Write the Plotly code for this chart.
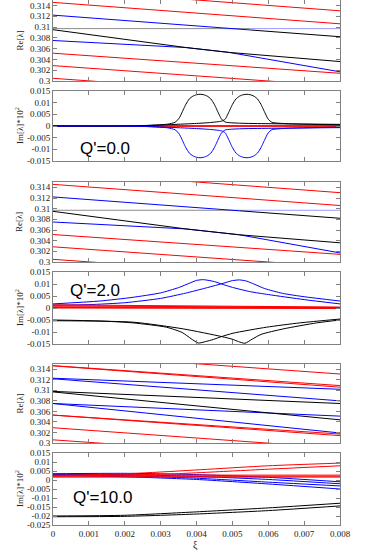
import plotly.graph_objects as go

# ---------------- data ----------------
xi_ticks = [0, 0.001, 0.002, 0.003, 0.004, 0.005, 0.006, 0.007, 0.008]
xi_ticklabels = ["0", "0.001", "0.002", "0.003", "0.004", "0.005", "0.006", "0.007", "0.008"]
re_ticks = [0.3, 0.302, 0.304, 0.306, 0.308, 0.31, 0.312, 0.314]
re_ticklabels = ["0.3", "0.302", "0.304", "0.306", "0.308", "0.31", "0.312", "0.314"]
im_ticks = [-0.015, -0.01, -0.005, 0, 0.005, 0.01, 0.015]
im_ticklabels = ["-0.015", "-0.01", "-0.005", "0", "0.005", "0.01", "0.015"]
im10_ticks = [-0.025, -0.02, -0.015, -0.01, -0.005, 0, 0.005, 0.01, 0.015]
im10_ticklabels = ["-0.025", "-0.02", "-0.015", "-0.01", "-0.005", "0", "0.005", "0.01", "0.015"]

xi_ends = [0, 0.008]

# Q'=0.0 real part
q0_re_red = [[0.3170, 0.3130], [0.31456, 0.31059], [0.30515, 0.30143], [0.30285, 0.29905], [0.3005, 0.2967]]
q0_re_h_black_xi = [0, 0.0055]
q0_re_h_black = [0.3097, 0.3097]
q0_re_h_blue_xi = [0.0055, 0.008]
q0_re_h_blue = [0.3097, 0.3097]
q0_re_d_blue_xi = [0, 0.0055]
q0_re_d_blue = [0.3122, 0.30945]
q0_re_d_black_xi = [0.0055, 0.008]
q0_re_d_black = [0.30945, 0.3082]
q0_re_lo_xi = [0, 0.0037, 0.0049, 0.008]
q0_re_lo_black = [0.3095, 0.3062, 0.3053, 0.3036]
q0_re_lo_blue = [0.3075, 0.3062, 0.3053, 0.3017]

# Q'=2.0 real part
q2_re_red = [[0.3170, 0.3130], [0.31456, 0.31059], [0.30515, 0.30143], [0.30285, 0.29905], [0.3005, 0.2967]]
q2_re_h_black_xi = [0, 0.0052]
q2_re_h_black = [0.3097, 0.3097]
q2_re_h_blue_xi = [0.0052, 0.008]
q2_re_h_blue = [0.3097, 0.3097]
q2_re_d_blue_xi = [0, 0.0052]
q2_re_d_blue = [0.3122, 0.3096]
q2_re_d_black_xi = [0.0052, 0.008]
q2_re_d_black = [0.3096, 0.3082]
q2_re_lo_xi = [0, 0.0037, 0.0052, 0.008]
q2_re_lo_black = [0.3095, 0.3062, 0.3051, 0.3036]
q2_re_lo_blue = [0.3075, 0.3062, 0.3051, 0.3017]

# Q'=10.0 real part
q10_re_red = [[0.3170, 0.3131], [0.31469, 0.3109], [0.31465, 0.3106], [0.3053, 0.3017],
              [0.3053, 0.3014], [0.3029, 0.2990], [0.3006, 0.2968]]
q10_re_blue = [[0.3123, 0.3102], [0.3122, 0.3080], [0.3075, 0.3051], [0.3075, 0.3019]]
q10_re_black = [[0.3098, 0.3075], [0.3097, 0.3044]]

# Q'=0.0 imaginary part (x 10^2)
q0_imA_xi = [0, 0.0019, 0.0027, 0.0032, 0.0034, 0.0035, 0.00355, 0.0036, 0.00365, 0.0037,
             0.00375, 0.0038, 0.0039, 0.0040, 0.0041, 0.0042, 0.0043, 0.0044, 0.00445, 0.0045,
             0.00455, 0.0046, 0.00465, 0.0047, 0.0048, 0.0052, 0.006, 0.008]
q0_imA_black = [0, 0, 0.0003, 0.0008, 0.0016, 0.0030, 0.0043, 0.0059, 0.0076, 0.0092,
                0.0105, 0.0116, 0.0128, 0.0134, 0.0136, 0.0134, 0.0128, 0.0116, 0.0105, 0.0092,
                0.0076, 0.0059, 0.0043, 0.0029, 0.0017, 0.0012, 0.0010, 0.0007]
q0_imA_blue = [0, 0, -0.0003, -0.0008, -0.0016, -0.0030, -0.0043, -0.0059, -0.0076, -0.0092,
               -0.0105, -0.0116, -0.0128, -0.0134, -0.0136, -0.0134, -0.0128, -0.0116, -0.0105, -0.0092,
               -0.0076, -0.0059, -0.0043, -0.0029, -0.0017, -0.0012, -0.0010, -0.0007]
q0_imB_xi = [0, 0.0022, 0.004, 0.0044, 0.0047, 0.0048, 0.00485, 0.0049, 0.00495, 0.0050,
             0.00505, 0.0051, 0.0052, 0.0053, 0.0054, 0.0055, 0.0056, 0.0057, 0.00575, 0.0058,
             0.00585, 0.0059, 0.00595, 0.0060, 0.0061, 0.0065, 0.008]
q0_imB_black = [0, 0, 0.0011, 0.0015, 0.0021, 0.0029, 0.0043, 0.0059, 0.0076, 0.0092,
                0.0105, 0.0116, 0.0128, 0.0134, 0.0136, 0.0134, 0.0128, 0.0116, 0.0105, 0.0092,
                0.0076, 0.0059, 0.0043, 0.0029, 0.0016, 0.0010, 0.0005]
q0_imB_blue = [0, 0, -0.0011, -0.0015, -0.0021, -0.0029, -0.0043, -0.0059, -0.0076, -0.0092,
               -0.0105, -0.0116, -0.0128, -0.0134, -0.0136, -0.0134, -0.0128, -0.0116, -0.0105, -0.0092,
               -0.0076, -0.0059, -0.0043, -0.0029, -0.0016, -0.0010, -0.0005]
q0_im_red = [[0, 0], [0.0001, 0.0001], [-0.0001, -0.0001]]

# Q'=2.0 imaginary part (x 10^2)
q2_imA_blue_xi = [0, 0.0013, 0.0022, 0.003, 0.0035, 0.0038, 0.0040, 0.0042, 0.0045, 0.0047,
                  0.005, 0.0055, 0.006, 0.007, 0.008]
q2_imA_blue = [0.0017, 0.0029, 0.0044, 0.0063, 0.0085, 0.0103, 0.0115, 0.0118, 0.0110, 0.0100,
               0.0086, 0.0068, 0.0056, 0.0035, 0.0017]
q2_imB_blue_xi = [0, 0.001, 0.002, 0.003, 0.0037, 0.0042, 0.0047, 0.0050, 0.0052, 0.0054,
                  0.0056, 0.0059, 0.0064, 0.007, 0.008]
q2_imB_blue = [0.0012, 0.0014, 0.0022, 0.0040, 0.0062, 0.0081, 0.0101, 0.0114, 0.0117, 0.0112,
               0.0100, 0.0081, 0.0061, 0.0047, 0.0029]
q2_imA_black_xi = [0, 0.0013, 0.00223, 0.00316, 0.0036, 0.00385, 0.00405, 0.00425, 0.00447, 0.0047,
                   0.00502, 0.00595, 0.00688, 0.008]
q2_imA_black = [-0.0050, -0.0054, -0.0062, -0.0080, -0.0102, -0.0128, -0.0146, -0.0140, -0.0131, -0.0119,
                -0.0105, -0.0080, -0.0062, -0.0046]
q2_imB_black_xi = [0, 0.00223, 0.00363, 0.0047, 0.00502, 0.00517, 0.00535, 0.00555, 0.0058,
                   0.00642, 0.00735, 0.008]
q2_imB_black = [-0.0053, -0.0059, -0.0087, -0.0119, -0.0131, -0.0140, -0.0147, -0.0130, -0.0110,
                -0.0087, -0.0062, -0.0050]
q2_im_red = [[0.0013, 0.0004], [0.0009, 0.0002], [0.0005, 0.0001], [0.0002, 0.0], [0.0, -0.0002]]

# Q'=10.0 imaginary part (x 10^2)
q10_im_xi5 = [0, 0.002, 0.004, 0.006, 0.008]
q10_im_black = [[-0.0200, -0.0196, -0.0177, -0.0155, -0.0129],
                [-0.0204, -0.0202, -0.0189, -0.0170, -0.0144]]
q10_im_blue = [[0.0035, 0.0037, 0.0030, 0.0015, -0.0010],
               [0.0031, 0.0030, 0.0020, 0.0003, -0.0021],
               [0.0028, 0.0024, 0.0010, -0.0012, -0.0033],
               [0.0025, 0.0018, 0.0003, -0.0022, -0.0050]]
q10_im_red_flat = [[0.0027, 0.0027], [0.0021, 0.0021], [0.0016, 0.0016]]
q10_im_redA_xi = [0, 0.0024, 0.0041, 0.006, 0.008]
q10_im_redA = [0.0023, 0.0038, 0.0057, 0.0079, 0.0094]
q10_im_redB_xi = [0, 0.0032, 0.005, 0.006, 0.008]
q10_im_redB = [0.0023, 0.0033, 0.0050, 0.0060, 0.0079]

# ---------------- figure ----------------
RED, BLUE, BLACK = "#ff0000", "#0000ff", "#000000"
GREY_H, LBLUE_H = "#8c8c8c", "#9a9aff"
fig = go.Figure()


def add(row, xs, ys, color, width=1, shape="linear"):
    fig.add_trace(go.Scatter(
        x=xs, y=ys, mode="lines",
        line=dict(color=color, width=width, shape=shape, smoothing=0.6 if shape == "spline" else None),
        xaxis="x" if row == 1 else f"x{row}",
        yaxis="y" if row == 1 else f"y{row}",
        showlegend=False, hoverinfo="skip"))


# row 1: Q'=0 Re
for r in q0_re_red:
    add(1, xi_ends, r, RED)
add(1, q0_re_h_black_xi, q0_re_h_black, GREY_H)
add(1, q0_re_h_blue_xi, q0_re_h_blue, LBLUE_H)
add(1, q0_re_d_blue_xi, q0_re_d_blue, BLUE)
add(1, q0_re_d_black_xi, q0_re_d_black, BLACK)
add(1, q0_re_lo_xi, q0_re_lo_blue, BLUE)
add(1, q0_re_lo_xi, q0_re_lo_black, BLACK)

# row 2: Q'=0 Im
for r in q0_im_red:
    add(2, xi_ends, r, RED)
add(2, q0_imA_xi, q0_imA_black, BLACK, shape="spline")
add(2, q0_imB_xi, q0_imB_black, BLACK, shape="spline")
add(2, q0_imA_xi, q0_imA_blue, BLUE, shape="spline")
add(2, q0_imB_xi, q0_imB_blue, BLUE, shape="spline")

# row 3: Q'=2 Re
for r in q2_re_red:
    add(3, xi_ends, r, RED)
add(3, q2_re_h_black_xi, q2_re_h_black, GREY_H)
add(3, q2_re_h_blue_xi, q2_re_h_blue, LBLUE_H)
add(3, q2_re_d_blue_xi, q2_re_d_blue, BLUE)
add(3, q2_re_d_black_xi, q2_re_d_black, BLACK)
add(3, q2_re_lo_xi, q2_re_lo_blue, BLUE)
add(3, q2_re_lo_xi, q2_re_lo_black, BLACK)

# row 4: Q'=2 Im
add(4, q2_imA_blue_xi, q2_imA_blue, BLUE, shape="spline")
add(4, q2_imB_blue_xi, q2_imB_blue, BLUE, shape="spline")
add(4, q2_imA_black_xi, q2_imA_black, BLACK, shape="spline")
add(4, q2_imB_black_xi, q2_imB_black, BLACK, shape="spline")
for r in q2_im_red:
    add(4, xi_ends, r, RED)

# row 5: Q'=10 Re
for r in q10_re_red:
    add(5, xi_ends, r, RED)
for r in q10_re_blue:
    add(5, xi_ends, r, BLUE)
for r in q10_re_black:
    add(5, xi_ends, r, BLACK)

# row 6: Q'=10 Im
for r in q10_im_black:
    add(6, q10_im_xi5, r, BLACK, shape="spline")
for r in q10_im_blue:
    add(6, q10_im_xi5, r, BLUE, shape="spline")
for r in q10_im_red_flat:
    add(6, xi_ends, r, RED)
add(6, q10_im_redA_xi, q10_im_redA, RED, shape="spline")
add(6, q10_im_redB_xi, q10_im_redB, RED, shape="spline")

# ---------------- layout ----------------
W, H = 374, 553
ML, MR, MT, MB = 53, 34, 0, 28
PW = W - ML - MR
PH = H - MT - MB
panels_px = [(0, 81), (91, 161), (182, 262), (272, 344), (364, 443), (453, 525)]
ranges = [[0.3, 0.315], [-0.015, 0.015], [0.3, 0.315], [-0.015, 0.015], [0.3, 0.315], [-0.025, 0.015]]
yt = [(re_ticks, re_ticklabels), (im_ticks, im_ticklabels)] * 2 + [(re_ticks, re_ticklabels), (im10_ticks, im10_ticklabels)]

tickfont = dict(family="Liberation Serif", size=9, color="#222222")
layout = dict(width=W, height=H, margin=dict(l=ML, r=MR, t=MT, b=MB, autoexpand=False),
              paper_bgcolor="white", plot_bgcolor="white", showlegend=False)
for i in range(6):
    top, bot = panels_px[i]
    dom = [1 - (bot - MT) / PH, 1 - (top - MT) / PH]
    sx = "" if i == 0 else str(i + 1)
    layout["xaxis" + sx] = dict(
        domain=[0, 1], anchor="y" + sx, range=[0, 0.008], automargin=False,
        tickvals=xi_ticks, ticktext=xi_ticklabels, showticklabels=(i == 5),
        ticks="inside", ticklen=4, tickcolor="#808080", mirror="ticks",
        showline=True, linecolor="#808080", linewidth=1,
        showgrid=False, zeroline=False, tickfont=tickfont)
    layout["yaxis" + sx] = dict(
        domain=dom, anchor="x" + sx, range=ranges[i], automargin=False,
        tickvals=yt[i][0], ticktext=yt[i][1],
        ticks="inside", ticklen=4, tickcolor="#808080", mirror="ticks",
        showline=True, linecolor="#808080", linewidth=1,
        showgrid=False, zeroline=False, tickfont=tickfont)

fig.update_layout(**layout)

labfont = dict(family="Liberation Serif", size=9, color="#222222")
ann = []
for i in range(6):
    top, bot = panels_px[i]
    yc = 1 - ((top + bot) / 2 - MT) / PH
    txt = "Re[λ]" if i % 2 == 0 else "Im[λ]*10<sup>2</sup>"
    ann.append(dict(text=txt, xref="paper", yref="paper", x=(19 - ML) / PW, y=yc,
                    textangle=-90, showarrow=False, font=labfont, xanchor="center", yanchor="middle"))
ann.append(dict(text="ξ", xref="paper", yref="paper", x=(195 - ML) / PW, y=-(545 - (H - MB)) / PH,
                showarrow=False, font=dict(family="Liberation Serif", size=10, color="#222222"),
                xanchor="center", yanchor="middle"))
qfont = dict(family="Liberation Sans", size=17, color="#000000")
for txt, xp, yp in [("Q'=0.0", 78, 149), ("Q'=2.0", 68, 290), ("Q'=10.0", 71, 497)]:
    ann.append(dict(text=txt, xref="paper", yref="paper", x=(xp - ML) / PW,
                    y=1 - (yp - MT) / PH, showarrow=False, font=qfont,
                    xanchor="left", yanchor="middle"))
fig.update_layout(annotations=ann)

fig.write_html("out.html", config={"displayModeBar": False, "staticPlot": True},
               post_script="document.body.style.margin='0';document.body.style.overflow='hidden';")
